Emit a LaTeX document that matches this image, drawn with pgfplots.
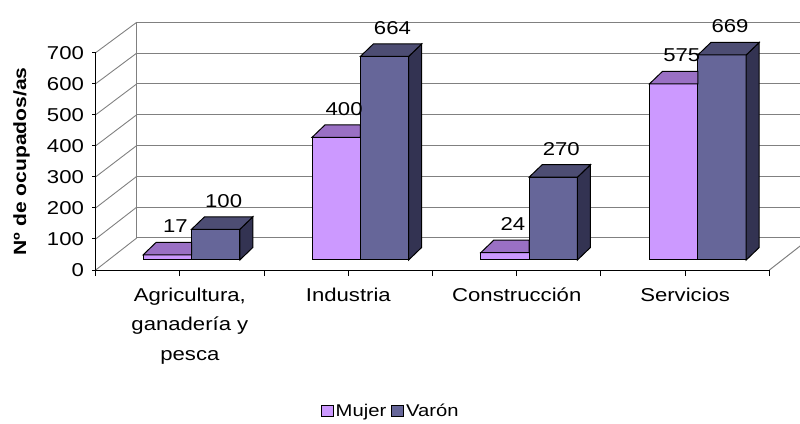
\documentclass[border=0pt]{standalone}
\usepackage{fontspec}
\setmainfont[FakeStretch=1.19]{Liberation Sans}
\usepackage{pgfplots}
\pgfplotsset{compat=1.18}
\pgfplotsset{/pgf/number format/assume math mode=true}

\definecolor{mujer}{HTML}{CC99FF}
\definecolor{mujertop}{HTML}{9A70C4}
\definecolor{varon}{HTML}{666699}
\definecolor{varontop}{HTML}{4D4D73}
\definecolor{varonside}{HTML}{333352}
\definecolor{gridgray}{HTML}{808080}

\newcommand\tickfont{\fontsize{18.6pt}{29.5pt}\selectfont}
\newcommand\legfont{\fontsize{17pt}{20pt}\selectfont}
\newcommand\cat[1]{\begin{tabular}{@{}c@{}}#1\end{tabular}}

% 3D extrusion of the Varon bars, drawn as the mark (bar shifted right by 24.15pt)
\pgfdeclareplotmark{boxV}{%
  \pgfmathsetmacro\hh{\hv*0.3065}%
  \pgfsetlinewidth{1pt}%
  \pgfsetstrokecolor{black}%
  \pgfsetfillcolor{varonside}%
  \pgfpathmoveto{\pgfpoint{48.3pt}{0pt}}%
  \pgfpathlineto{\pgfpoint{61.3pt}{12.5pt}}%
  \pgfpathlineto{\pgfpoint{61.3pt}{12.5pt-\hh pt}}%
  \pgfpathlineto{\pgfpoint{48.3pt}{-\hh pt}}%
  \pgfpathclose
  \pgfusepath{fill,stroke}%
  \pgfsetfillcolor{varontop}%
  \pgfpathmoveto{\pgfpoint{0pt}{0pt}}%
  \pgfpathlineto{\pgfpoint{48.3pt}{0pt}}%
  \pgfpathlineto{\pgfpoint{61.3pt}{12.5pt}}%
  \pgfpathlineto{\pgfpoint{13pt}{12.5pt}}%
  \pgfpathclose
  \pgfusepath{fill,stroke}%
}
% top face of the Mujer bars (its right part lies behind the Varon bar)
\pgfdeclareplotmark{boxM}{%
  \pgfsetlinewidth{1pt}%
  \pgfsetstrokecolor{black}%
  \pgfsetfillcolor{mujertop}%
  \pgfpathmoveto{\pgfpoint{-48.3pt}{0pt}}%
  \pgfpathlineto{\pgfpoint{0pt}{0pt}}%
  \pgfpathlineto{\pgfpoint{0pt}{12.5pt}}%
  \pgfpathlineto{\pgfpoint{-35.3pt}{12.5pt}}%
  \pgfpathclose
  \pgfusepath{fill,stroke}%
}

\begin{document}
\begin{tikzpicture}
\useasboundingbox (0,0) rectangle (800pt,423pt);

% back wall gridlines
\begin{axis}[
  at={(220.9pt,185pt)}, anchor=origin,
  x=168.4pt, y=0.3081pt,
  xmin=-0.5, xmax=3.5, ymin=0, ymax=700,
  axis line style={draw=none},
  xtick=\empty, ytick={0,100,...,700}, yticklabels={},
  major tick length=0pt,
  ymajorgrids, grid style={gridgray, line width=1pt},
]
\end{axis}

% side wall and floor edges
\foreach \v in {0,100,...,700}{
  \pgfmathsetmacro\ya{153+\v*0.3105}
  \pgfmathsetmacro\yb{185+\v*0.3081}
  \draw[gridgray, line width=0.9pt] (95.7pt,\ya pt) -- (136.7pt,\yb pt);
}
\draw[gridgray, line width=1pt] (136.7pt,185pt) -- (136.7pt,400.7pt);
\draw[gridgray, line width=1pt] (769.4pt,153pt) -- (810.4pt,185pt);

% bars
\begin{axis}[
  at={(191.5pt,163pt)}, anchor=origin,
  x=168.8pt, y=0.3065pt,
  xmin=-0.5, xmax=3.5, ymin=0, ymax=700,
  axis lines=none, clip=false,
  ybar=0pt, bar width=48.3pt,
  visualization depends on={value \thisrow{y} \as \hv},
  nodes near coords,
  nodes near coords style={font=\tickfont, text=black, anchor=center, xshift=8pt, yshift=28.5pt},
]
\addplot[fill=mujer, draw=black, line width=1pt, mark=boxM] table[x=x, y=y] {
x y
0 17
1 400
2 24
3 575
};
\addplot[fill=varon, draw=black, line width=1pt, mark=boxV] table[x=x, y=y] {
x y
0 100
1 664
2 270
3 669
};
\end{axis}

% front axis
\begin{axis}[
  at={(179.9pt,153pt)}, anchor=origin,
  x=168.425pt, y=0.3105pt,
  xmin=-0.5, xmax=3.5, ymin=0, ymax=700,
  axis x line*=bottom, axis y line*=left,
  axis line style={black, line width=1pt},
  tick align=outside,
  ytick={0,100,200,300,400,500,600,700},
  yticklabels={0,100,200,300,400,500,600,700},
  ytick style={black, line width=1pt, /pgfplots/major tick length=3.5pt},
  yticklabel style={anchor=east, xshift=-4pt},
  xtick={-0.5,0.5,1.5,2.5,3.5}, xticklabels={},
  xtick style={black, line width=1pt, /pgfplots/major tick length=6pt},
  extra x ticks={0,1,2,3},
  extra x tick labels={{\hspace*{20pt}\cat{Agricultura,\\ganadería y\\pesca}},\cat{Industria},\cat{Construcción},\cat{Servicios}},
  extra x tick style={major tick length=0pt, xticklabel style={anchor=north, yshift=-7pt}},
  tick label style={font=\tickfont},
  ylabel={\textbf{Nº de ocupados/as}},
  ylabel style={font=\fontsize{17.7pt}{20pt}\selectfont, at={(axis description cs:-0.1100,0.5)}, anchor=center},
  legend style={draw=none, fill=none, font=\legfont, legend columns=2,
    at={(axis description cs:0.4380,-0.6487)}, anchor=center,
    /tikz/every even column/.append style={column sep=3pt}},
  legend image code/.code={\draw[#1] (0pt,-5.5pt) rectangle (12pt,5.5pt);},
]
\addlegendimage{fill=mujer, draw=black, line width=0.8pt}
\addlegendentry{Mujer}
\addlegendimage{fill=varon, draw=black, line width=0.8pt}
\addlegendentry{Varón}
\end{axis}
\end{tikzpicture}
\end{document}
